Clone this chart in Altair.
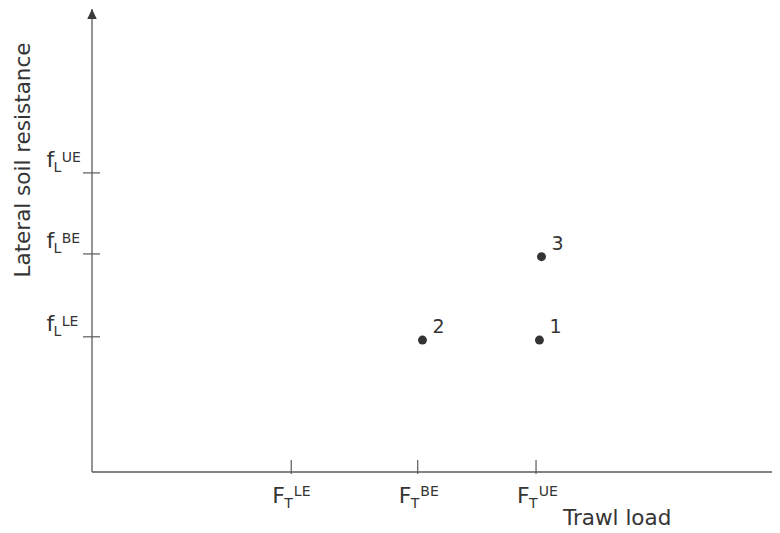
import altair as alt
import pandas as pd

# ---- values ----
x_tick_names = ["LE", "BE", "UE"]      # superscripts of F_T
x_tick_values = [2.93, 4.79, 6.53]
y_tick_names = ["LE", "BE", "UE"]      # superscripts of f_L
y_tick_values = [2.92, 4.71, 6.46]
point_labels = ["1", "2", "3"]
point_x = [6.58, 4.86, 6.61]
point_y = [2.85, 2.85, 4.65]
x_title = "Trawl load"
y_title = "Lateral soil resistance"

X_MAX = 10
Y_MAX = 10
W, H = 680, 463

FONT = "DejaVu Sans"
INK = "#353535"
LINE = "#5a5a5a"

xs = alt.Scale(domain=[0, X_MAX], nice=False, zero=False)
ys = alt.Scale(domain=[0, Y_MAX], nice=False, zero=False)


def X(f):
    return alt.X(f, type="quantitative", scale=xs, axis=None)


def Y(f):
    return alt.Y(f, type="quantitative", scale=ys, axis=None)


xt = pd.DataFrame({"name": x_tick_names, "x": x_tick_values})
yt = pd.DataFrame({"name": y_tick_names, "y": y_tick_values})
pts = pd.DataFrame({"label": point_labels, "x": point_x, "y": point_y})
frame = pd.DataFrame({"x0": [0.0], "x1": [float(X_MAX)], "y0": [0.0], "y1": [float(Y_MAX)]})

x_axis = alt.Chart(frame).mark_rule(color=LINE, strokeWidth=1.3).encode(
    x=X("x0"), x2="x1:Q", y=Y("y0")
)
y_axis = alt.Chart(frame).mark_rule(color=LINE, strokeWidth=1.3).encode(
    x=X("x0"), y=Y("y0"), y2="y1:Q"
)
arrow = alt.Chart(frame).mark_point(
    shape="M0,-1L0.95,1L-0.95,1Z", size=100, filled=True, opacity=1,
    color="#3a3a3a", strokeWidth=0, yOffset=5
).encode(x=X("x0"), y=Y("y1"))

xtick = alt.Chart(xt).mark_rule(color=LINE, strokeWidth=1.2).encode(
    x=X("x"), y=alt.value(H - 12), y2=alt.value(H + 2)
)
ytick = alt.Chart(yt).mark_rule(color=LINE, strokeWidth=1.2).encode(
    y=Y("y"), x=alt.value(-9), x2=alt.value(8)
)

txt = dict(font=FONT, color=INK, align="left", baseline="alphabetic")

xF = alt.Chart(xt).mark_text(text="F", fontSize=22, dx=-19, **txt).encode(
    x=X("x"), y=alt.value(H + 31)
)
xT = alt.Chart(xt).mark_text(text="T", fontSize=14, dx=-7, **txt).encode(
    x=X("x"), y=alt.value(H + 36)
)
xS = alt.Chart(xt).mark_text(fontSize=14, dx=2.6, **txt).encode(
    x=X("x"), y=alt.value(H + 24), text="name:N"
)

yF = alt.Chart(yt).mark_text(text="f", fontSize=22, dy=-6, **txt).encode(
    y=Y("y"), x=alt.value(-45.5)
)
yL = alt.Chart(yt).mark_text(text="L", fontSize=14, dy=-1, **txt).encode(
    y=Y("y"), x=alt.value(-38.4)
)
yS = alt.Chart(yt).mark_text(fontSize=14, dy=-11, **txt).encode(
    y=Y("y"), x=alt.value(-30.3), text="name:N"
)

points = alt.Chart(pts).mark_circle(size=80, color="#333333", opacity=1).encode(
    x=X("x"), y=Y("y")
)
plabels = alt.Chart(pts).mark_text(fontSize=19, dx=10, dy=-7, **txt).encode(
    x=X("x"), y=Y("y"), text="label:N"
)

xtitle = alt.Chart(pd.DataFrame({"t": [x_title]})).mark_text(fontSize=21.5, **txt).encode(
    x=alt.value(471), y=alt.value(H + 53), text="t:N"
)
ytitle = alt.Chart(pd.DataFrame({"t": [y_title]})).mark_text(
    fontSize=21.5, angle=270, font=FONT, color=INK, align="center", baseline="alphabetic"
).encode(x=alt.value(-62), y=alt.value(151), text="t:N")

chart = alt.layer(
    x_axis, y_axis, arrow, xtick, ytick, xF, xT, xS, yF, yL, yS,
    points, plabels, xtitle, ytitle
).properties(
    width=W, height=H,
    padding={"left": 84, "top": 1, "right": 0, "bottom": 60},
    autosize=alt.AutoSizeParams(type="none"),
).configure_view(strokeWidth=0)

chart.save("out.html", embed_options={"renderer": "svg", "actions": False})
